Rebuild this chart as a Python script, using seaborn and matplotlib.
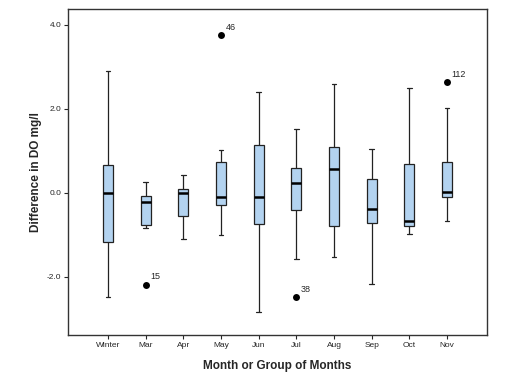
import numpy as np
import pandas as pd
import matplotlib
matplotlib.use("Agg")
import matplotlib.pyplot as plt
import seaborn as sns

sns.set_style("white")
plt.rcParams['font.family'] = ['Liberation Sans', 'DejaVu Sans']

# Five-number summary per group (low whisker, Q1, median, Q3, high whisker)
months = ['Winter', 'Mar', 'Apr', 'May', 'Jun', 'Jul', 'Aug', 'Sep', 'Oct', 'Nov']
low    = [-2.49, -0.84, -1.10, -1.00, -2.84, -1.58, -1.52, -2.16, -0.99, -0.68]
q1     = [-1.16, -0.77, -0.54, -0.29, -0.75, -0.42, -0.78, -0.72, -0.80, -0.10]
median = [ 0.00, -0.21, -0.01, -0.09, -0.10,  0.24,  0.57, -0.39, -0.67,  0.01]
q3     = [ 0.67, -0.08,  0.10,  0.73,  1.14,  0.58,  1.10,  0.33,  0.68,  0.73]
high   = [ 2.91,  0.25,  0.43,  1.01,  2.40,  1.52,  2.59,  1.04,  2.49,  2.02]

# Outliers with case labels
out_month = ['Mar', 'May', 'Jul', 'Nov']
out_value = [-2.19, 3.76, -2.49, 2.64]
out_label = ['15', '46', '38', '112']

rows = []
for m, a, b, c, d, e in zip(months, low, q1, median, q3, high):
    for v in (a, b, c, d, e):
        rows.append({'month': m, 'diff': v})
df = pd.DataFrame(rows)
out = pd.DataFrame({'month': out_month, 'diff': out_value, 'label': out_label})

fig = plt.figure(figsize=(5.12, 3.84), dpi=100)
ax = fig.add_axes([0.133, 0.128, 0.818, 0.849])

sns.boxplot(data=df, x='month', y='diff', order=months, whis=np.inf, width=0.26,
            color='#b3d3f0', saturation=1, linewidth=0.9, linecolor='#222222',
            medianprops={'linewidth': 1.8, 'color': 'black'},
            capprops={'linewidth': 0.9}, ax=ax)
sns.stripplot(data=out, x='month', y='diff', order=months, jitter=False,
              color='black', size=5, ax=ax)

xpos = {m: i for i, m in enumerate(months)}
for m, v, lab in zip(out_month, out_value, out_label):
    ax.text(xpos[m] + 0.12, v + 0.08, lab, fontsize=6.5, ha='left', va='bottom')

ax.set_xlim(-1.06, 10.06)
ax.set_ylim(-3.38, 4.38)
ax.set_yticks([-2.0, 0.0, 2.0, 4.0])
ax.set_yticklabels(['-2.0', '0.0', '2.0', '4.0'])
ax.tick_params(axis='both', labelsize=6, length=3, width=0.8, direction='out',
               left=True, bottom=True, pad=2)
ax.set_xlabel('Month or Group of Months', fontsize=8.5, fontweight='bold', labelpad=8)
ax.set_ylabel('Difference in DO mg/l', fontsize=8.5, fontweight='bold', labelpad=3)
for s in ax.spines.values():
    s.set_color('#333333')
    s.set_linewidth(1.0)

plt.savefig('out.png', dpi=100)
